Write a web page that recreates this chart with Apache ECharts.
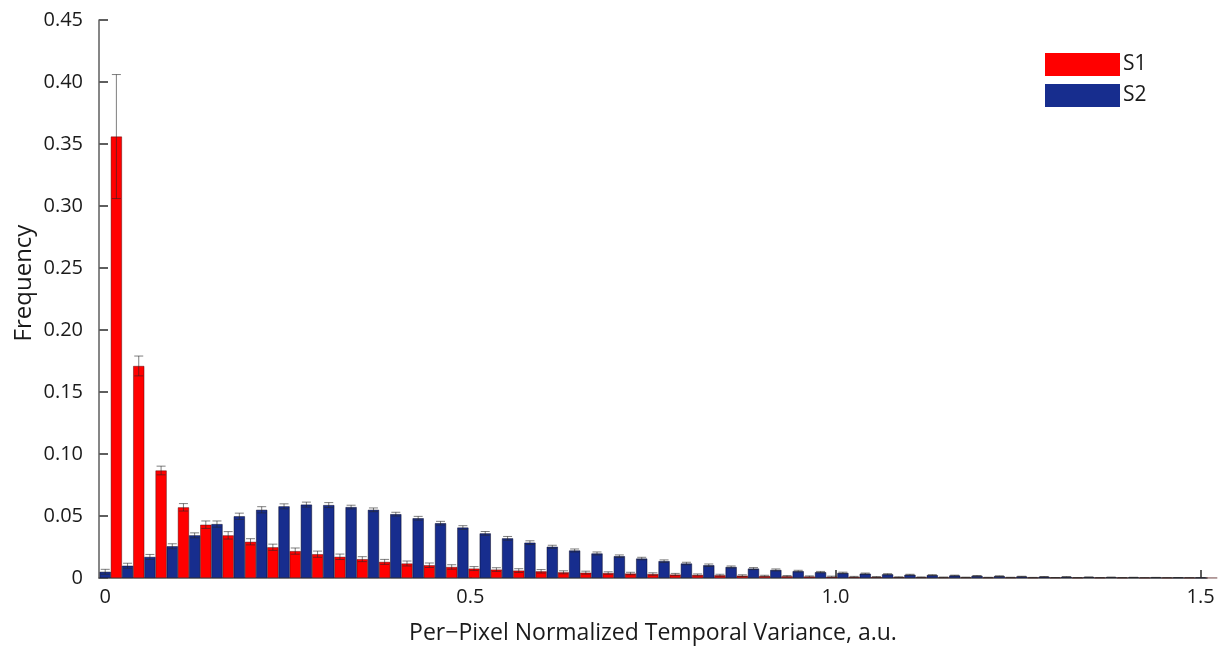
<!DOCTYPE html>
<html>
<head>
<meta charset="utf-8">
<script src="https://cdn.jsdelivr.net/npm/echarts@6/dist/echarts.min.js"></script>
<style>
html,body{margin:0;padding:0;background:#fff;}
#chart{width:1227px;height:650px;}
</style>
</head>
<body>
<div id="chart"></div>
<script>
// ---- data ----
const binCount = 50;
const binStart = 0;
const binEnd = 1.5;
const seriesNames = ['S1', 'S2'];
const s1Values = [0.356, 0.171, 0.0867, 0.057, 0.043, 0.0344, 0.0292, 0.0248, 0.0217, 0.0192,
  0.0171, 0.0152, 0.013, 0.0117, 0.0103, 0.0089, 0.0076, 0.0068, 0.006, 0.0054,
  0.0046, 0.0043, 0.004, 0.0036, 0.0032, 0.0028, 0.0025, 0.0022, 0.0019, 0.0016,
  0.0014, 0.0012, 0.001, 0.0009, 0.0008, 0.0007, 0.0006, 0.0005, 0.0005, 0.0004,
  0.0004, 0.0003, 0.0003, 0.0002, 0.0002, 0.0002, 0.0001, 0.0001, 0.0001, 0.0001];
const s1Errors = [0.05, 0.008, 0.0035, 0.003, 0.003, 0.003, 0.0025, 0.0025, 0.0025, 0.0025,
  0.0022, 0.002, 0.002, 0.002, 0.0018, 0.0018, 0.0016, 0.0015, 0.0015, 0.0014,
  0.0012, 0.0012, 0.001, 0.001, 0.001, 0.0009, 0.0008, 0.0008, 0.0007, 0.0006,
  0.0006, 0.0005, 0.0005, 0.0004, 0.0004, 0.0003, 0.0003, 0.0003, 0.0002, 0.0002,
  0.0002, 0.0002, 0.0001, 0.0001, 0.0001, 0.0001, 0.0001, 0.0001, 0.0001, 0.0001];
const s2Values = [0.005, 0.0099, 0.017, 0.0256, 0.0344, 0.0435, 0.0498, 0.055, 0.0578, 0.0592,
  0.0588, 0.0572, 0.055, 0.0515, 0.0482, 0.0442, 0.0407, 0.036, 0.032, 0.0285,
  0.0252, 0.0222, 0.0198, 0.0176, 0.0157, 0.0136, 0.0117, 0.0103, 0.0089, 0.0076,
  0.0065, 0.0055, 0.0047, 0.0041, 0.0035, 0.003, 0.0026, 0.0023, 0.002, 0.0017,
  0.0015, 0.0012, 0.001, 0.0009, 0.0007, 0.0006, 0.0005, 0.0004, 0.0003, 0.0002];
const s2Errors = [0.002, 0.002, 0.002, 0.002, 0.002, 0.0025, 0.0025, 0.0025, 0.002, 0.002,
  0.002, 0.0015, 0.0015, 0.0015, 0.0015, 0.0015, 0.0015, 0.0015, 0.0015, 0.0015,
  0.0012, 0.0012, 0.0012, 0.001, 0.001, 0.001, 0.001, 0.001, 0.0008, 0.0008,
  0.0008, 0.0007, 0.0006, 0.0006, 0.0005, 0.0005, 0.0004, 0.0004, 0.0003, 0.0003,
  0.0003, 0.0002, 0.0002, 0.0002, 0.0001, 0.0001, 0.0001, 0.0001, 0.0001, 0.0001];
const xTickValues = [0, 0.5, 1.0, 1.5];
const xTickLabels = ['0', '0.5', '1.0', '1.5'];
const yTickValues = [0, 0.05, 0.10, 0.15, 0.20, 0.25, 0.30, 0.35, 0.40, 0.45];
const yTickLabels = ['0', '0.05', '0.10', '0.15', '0.20', '0.25', '0.30', '0.35', '0.40', '0.45'];
const xAxisTitle = 'Per\u2212Pixel Normalized Temporal Variance, a.u.';
const yAxisTitle = 'Frequency';

// axis extents
const xMin = -0.0085, xMax = 1.5088;
const yMin = 0, yMax = 0.45;

// bin positions (S2 at bin position, S1 offset by half a bin)
const binStep = (binEnd - binStart) / (binCount - 1);
const s2X = s2Values.map((_, i) => binStart + i * binStep);
const s1X = s1Values.map((_, i) => binStart + i * binStep + binStep / 2);

const FONT = '"Open Sans", "Noto Sans", sans-serif';
const RED = '#ff0000';
const BLUE = '#172d8e';
const AXIS = '#5e5e5e';

function barData(xs, vs) { return xs.map((x, i) => [x, vs[i]]); }
function errData(xs, vs, es) { return xs.map((x, i) => [x, vs[i], es[i]]); }

function errRender(params, api) {
  const x = api.value(0), v = api.value(1), e = api.value(2);
  const top = api.coord([x, v + e]);
  const bot = api.coord([x, Math.max(0, v - e)]);
  const hw = 4.5;
  const st = { stroke: 'rgba(40,40,40,0.6)', lineWidth: 1 };
  return {
    type: 'group',
    children: [
      { type: 'line', shape: { x1: top[0], y1: top[1], x2: bot[0], y2: bot[1] }, style: st },
      { type: 'line', shape: { x1: top[0] - hw, y1: top[1], x2: top[0] + hw, y2: top[1] }, style: st },
      { type: 'line', shape: { x1: bot[0] - hw, y1: bot[1], x2: bot[0] + hw, y2: bot[1] }, style: st }
    ]
  };
}

const chart = echarts.init(document.getElementById('chart'), null, { renderer: 'canvas' });
chart.setOption({
  animation: false,
  backgroundColor: '#ffffff',
  textStyle: { fontFamily: FONT },
  grid: { left: 99, right: 20, top: 20, bottom: 68, containLabel: false },
  legend: {
    data: seriesNames,
    orient: 'vertical',
    left: 1040,
    top: 48,
    icon: 'rect',
    itemWidth: 75,
    itemHeight: 23,
    itemGap: 8,
    itemStyle: { borderWidth: 0 },
    textStyle: { fontFamily: FONT, fontSize: 21, color: '#1a1a1a', padding: [0, 0, 0, -2] }
  },
  xAxis: {
    type: 'value',
    min: xMin,
    max: xMax,
    name: xAxisTitle,
    nameLocation: 'middle',
    nameGap: 44,
    nameTextStyle: { fontFamily: FONT, fontSize: 23, color: '#1a1a1a' },
    axisLine: { show: true, onZero: false, lineStyle: { color: AXIS, width: 1.5 } },
    axisTick: { show: true, inside: true, length: 8, customValues: xTickValues.slice(1), lineStyle: { color: AXIS, width: 2 } },
    axisLabel: {
      show: true, margin: 9, fontFamily: FONT, fontSize: 20, color: '#1a1a1a',
      customValues: xTickValues,
      formatter: (v) => { const i = xTickValues.findIndex(t => Math.abs(t - v) < 1e-9); return i >= 0 ? xTickLabels[i] : ''; }
    },
    splitLine: { show: false }
  },
  yAxis: {
    type: 'value',
    min: yMin,
    max: yMax,
    interval: 0.05,
    axisLine: { show: true, onZero: false, lineStyle: { color: AXIS, width: 1.5 } },
    axisTick: { show: true, inside: true, length: 9, lineStyle: { color: AXIS, width: 2 } },
    axisLabel: {
      margin: 16, fontFamily: FONT, fontSize: 20, color: '#1a1a1a',
      formatter: (v) => { const i = yTickValues.findIndex(t => Math.abs(t - v) < 1e-9); return i >= 0 ? yTickLabels[i] : ''; }
    },
    splitLine: { show: false }
  },
  graphic: [{
    type: 'text',
    x: 24,
    y: 283,
    rotation: Math.PI / 2,
    style: {
      text: yAxisTitle, fontFamily: FONT, fontSize: 24, fill: '#1a1a1a',
      textAlign: 'center', textVerticalAlign: 'middle'
    }
  }],
  series: [
    {
      name: 'S1', type: 'bar', data: barData(s1X, s1Values),
      barWidth: 11.2, barGap: '-100%',
      itemStyle: { color: RED, borderColor: 'rgba(60,0,0,0.7)', borderWidth: 0.6 },
      z: 2
    },
    {
      name: 'S2', type: 'bar', data: barData(s2X, s2Values),
      barWidth: 11.2, barGap: '-100%',
      itemStyle: { color: BLUE, borderColor: 'rgba(0,0,30,0.8)', borderWidth: 0.6 },
      z: 2
    },
    {
      name: 'S1 err', type: 'custom', data: errData(s1X, s1Values, s1Errors),
      renderItem: errRender, z: 5, silent: true, clip: true
    },
    {
      name: 'S2 err', type: 'custom', data: errData(s2X, s2Values, s2Errors),
      renderItem: errRender, z: 5, silent: true, clip: true
    }
  ]
});
</script>
</body>
</html>
